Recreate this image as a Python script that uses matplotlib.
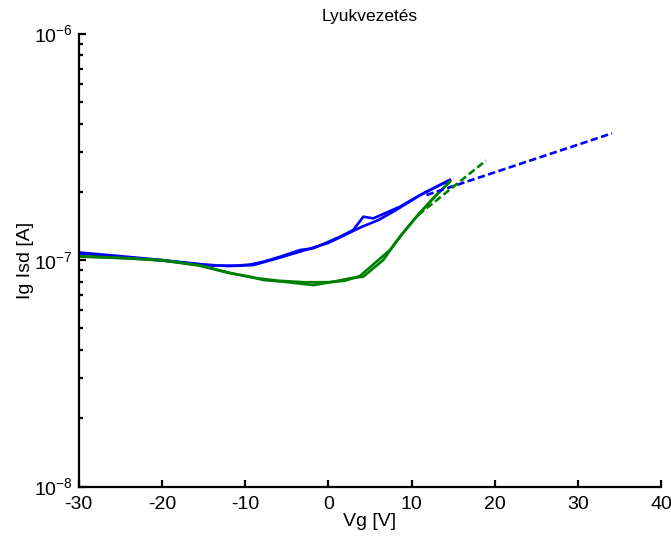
import matplotlib
matplotlib.use("Agg")
import matplotlib.pyplot as plt

plt.rcParams['font.family'] = ['Liberation Sans', 'DejaVu Sans']
plt.rcParams['mathtext.fontset'] = 'custom'
plt.rcParams['mathtext.rm'] = 'Liberation Sans'
plt.rcParams['mathtext.it'] = 'Liberation Sans'

# Blue sweeps (forward / backward)
blue_a_x = [-30, -25, -19.8, -13.8, -11.0, -9.4, -7.8, -5.8, -3.4, -1.8, 1.4, 3.0, 4.2, 5.4, 8.6, 11.4, 14.6]
blue_a_y = [1.070e-7, 1.031e-7, 9.93e-8, 9.44e-8, 9.44e-8, 9.55e-8, 9.83e-8, 1.034e-7, 1.107e-7, 1.126e-7,
            1.267e-7, 1.357e-7, 1.553e-7, 1.527e-7, 1.719e-7, 1.970e-7, 2.255e-7]
blue_b_x = [-30, -25, -20, -15, -12, -9, -6, -3, 0, 2, 4, 6, 8, 11, 14.6]
blue_b_y = [1.080e-7, 1.040e-7, 1.000e-7, 9.55e-8, 9.40e-8, 9.50e-8, 1.02e-7, 1.10e-7, 1.19e-7, 1.29e-7,
            1.40e-7, 1.50e-7, 1.65e-7, 1.93e-7, 2.255e-7]

# Green sweeps (forward / backward)
green_a_x = [-30, -23.8, -19.8, -15.8, -11.8, -9.4, -7.8, -5.4, -1.8, 0.6, 2.6, 4.2, 6.6, 8.6, 10.6, 12.6, 14.6]
green_a_y = [1.041e-7, 1.017e-7, 9.93e-8, 9.50e-8, 8.74e-8, 8.44e-8, 8.16e-8, 8.02e-8, 7.75e-8, 8.02e-8,
             8.30e-8, 8.44e-8, 1.000e-7, 1.267e-7, 1.553e-7, 1.872e-7, 2.216e-7]
green_b_x = [-30, -25, -20, -15, -12, -9, -6, -3, 0, 2, 3.8, 7.4, 9.0, 10.6, 12.6, 14.6]
green_b_y = [1.035e-7, 1.020e-7, 1.000e-7, 9.40e-8, 8.80e-8, 8.35e-8, 8.10e-8, 7.98e-8, 7.98e-8, 8.10e-8,
             8.50e-8, 1.107e-7, 1.32e-7, 1.553e-7, 1.872e-7, 2.216e-7]

# Fitted (dashed) lines
blue_fit_x = [11.8, 34.1]
blue_fit_y = [1.936e-7, 3.625e-7]
green_fit_x = [10.8, 18.95]
green_fit_y = [1.580e-7, 2.750e-7]

xticks = [-30, -20, -10, 0, 10, 20, 30, 40]

BLUE = '#0000ff'
GREEN = '#008000'

fig = plt.figure(figsize=(6.71, 5.38), dpi=100)
ax = fig.add_axes([0.1173, 0.0957, 0.868, 0.842])

LW = 1.9
ax.plot(blue_a_x, blue_a_y, color=BLUE, lw=LW)
ax.plot(blue_b_x, blue_b_y, color=BLUE, lw=LW)
ax.plot(green_a_x, green_a_y, color=GREEN, lw=LW)
ax.plot(green_b_x, green_b_y, color=GREEN, lw=LW)
ax.plot(blue_fit_x, blue_fit_y, color=BLUE, lw=LW, ls=(0, (2.8, 1.3)))
ax.plot(green_fit_x, green_fit_y, color=GREEN, lw=LW, ls=(0, (2.8, 1.3)))

ax.set_yscale('log')
ax.set_xlim(-30, 40)
ax.set_ylim(1e-8, 1e-6)
ax.set_xticks(xticks)
ax.set_xticklabels([str(t) for t in xticks])

for s in ['top', 'right']:
    ax.spines[s].set_visible(False)
for s in ['left', 'bottom']:
    ax.spines[s].set_linewidth(1.6)

ax.tick_params(axis='x', which='major', direction='in', length=5, width=1.6, labelsize=14, pad=7)
ax.tick_params(axis='y', which='major', direction='in', length=5, width=1.6, labelsize=14, pad=4)
ax.tick_params(axis='y', which='minor', direction='in', length=3, width=1.6)

ax.set_xlabel('Vg [V]', fontsize=14, labelpad=0)
ax.set_ylabel('Ig Isd [A]', fontsize=14, labelpad=0)
ax.set_title('Lyukvezetés', fontsize=12.5, pad=9)

fig.savefig('out.png', dpi=100)
